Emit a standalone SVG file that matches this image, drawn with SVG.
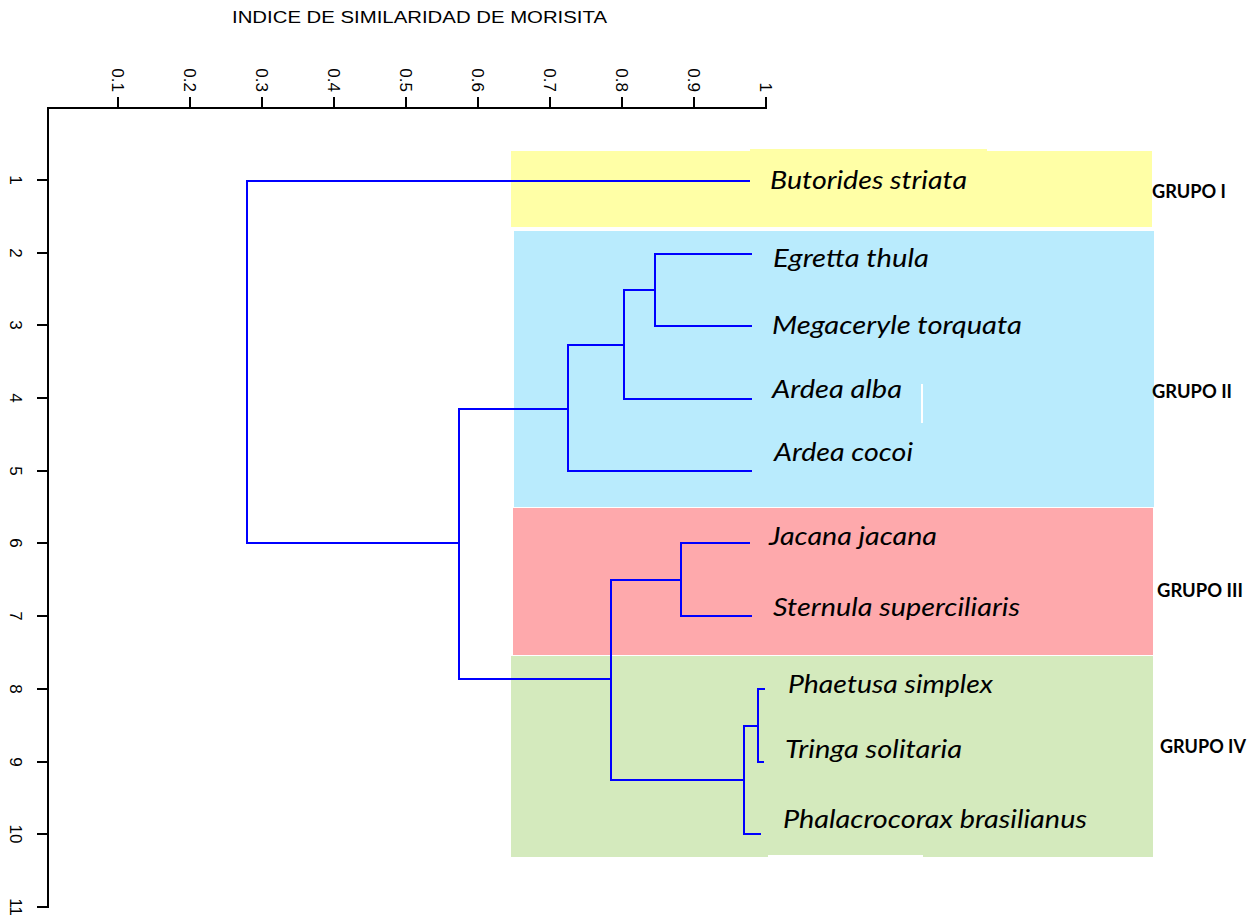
<svg xmlns="http://www.w3.org/2000/svg" width="1251" height="915" viewBox="0 0 1251 915">
<style>
.ax{stroke:#000;stroke-width:2;fill:none}
.tk{font-family:"Liberation Sans",Arial,sans-serif;font-size:17px;fill:#000}
.tt{font-family:"Liberation Sans",Arial,sans-serif;font-size:16px;fill:#000}
.sp{font-family:Lato,"Open Sans",sans-serif;font-style:italic;font-size:25px;fill:#000}
.gr{font-family:Lato,"Open Sans",sans-serif;font-weight:bold;font-size:18px;fill:#000}
.br{stroke:#0000ff;stroke-width:2;fill:none}
</style>
<rect width="1251" height="915" fill="#fff"/>
<g id="bands">
<rect x="511" y="151" width="641" height="76" fill="#ffffa6"/>
<rect x="750" y="149" width="237" height="4" fill="#ffffa6"/>
<rect x="514" y="231" width="640" height="276" fill="#b9ebfd"/>
<rect x="921" y="384" width="2" height="39" fill="#fff"/>
<rect x="513" y="508" width="640" height="147" fill="#fea9ac"/>
<rect x="511" y="656" width="642" height="201" fill="#d4eabd"/>
<rect x="768" y="855" width="155" height="3" fill="#fff"/>
</g>
<text x="232" y="23" class="tt" textLength="375" lengthAdjust="spacingAndGlyphs">INDICE DE SIMILARIDAD DE MORISITA</text>
<g id="top-axis">
<path class="ax" d="M47,108 H767 M118,97 V108 M190,97 V108 M262,97 V108 M334,97 V108 M406,97 V108 M478,97 V108 M550,97 V108 M622,97 V108 M694,97 V108 M766,97 V108"/>
<g class="tk" text-anchor="end">
<text transform="translate(112,92) rotate(90)">0.1</text>
<text transform="translate(184,92) rotate(90)">0.2</text>
<text transform="translate(256,92) rotate(90)">0.3</text>
<text transform="translate(328,92) rotate(90)">0.4</text>
<text transform="translate(400,92) rotate(90)">0.5</text>
<text transform="translate(472,92) rotate(90)">0.6</text>
<text transform="translate(544,92) rotate(90)">0.7</text>
<text transform="translate(616,92) rotate(90)">0.8</text>
<text transform="translate(688,92) rotate(90)">0.9</text>
<text transform="translate(760,92) rotate(90)">1</text>
</g>
</g>
<g id="left-axis">
<path class="ax" d="M48,108 V908 M37,180 H48 M37,253 H48 M37,325 H48 M37,398 H48 M37,471 H48 M37,543 H48 M37,616 H48 M37,689 H48 M37,762 H48 M37,834 H48 M37,907 H48"/>
<g class="tk" text-anchor="middle">
<text transform="translate(10,180) rotate(90)">1</text>
<text transform="translate(10,253) rotate(90)">2</text>
<text transform="translate(10,325) rotate(90)">3</text>
<text transform="translate(10,398) rotate(90)">4</text>
<text transform="translate(10,471) rotate(90)">5</text>
<text transform="translate(10,543) rotate(90)">6</text>
<text transform="translate(10,616) rotate(90)">7</text>
<text transform="translate(10,689) rotate(90)">8</text>
<text transform="translate(10,762) rotate(90)">9</text>
<text transform="translate(10,834) rotate(90)">10</text>
<text transform="translate(10,907) rotate(90)">11</text>
</g>
</g>
<g id="connectors">
<path class="br" d="M750,181 H247 V543 H459"/>
<path class="br" d="M568,409 H459 V679 H611"/>
<path class="br" d="M752,254 H655 V326 H752"/>
<path class="br" d="M655,290 H624 V399 H752"/>
<path class="br" d="M624,345 H568 V471 H752"/>
<path class="br" d="M750,543 H681 V616 H752"/>
<path class="br" d="M681,580 H611 V780 H744"/>
<path class="br" d="M765,689 H758 V762 H764"/>
<path class="br" d="M758,726 H744 V834 H761"/>
</g>
<g id="leaf-butorides"><text class="sp" x="770" y="189" textLength="197" lengthAdjust="spacingAndGlyphs">Butorides striata</text></g>
<g id="leaf-egretta"><text class="sp" x="773" y="267" textLength="156" lengthAdjust="spacingAndGlyphs">Egretta thula</text></g>
<g id="leaf-megaceryle"><text class="sp" x="772" y="334" textLength="250" lengthAdjust="spacingAndGlyphs">Megaceryle torquata</text></g>
<g id="leaf-ardea-alba"><text class="sp" x="772" y="398" textLength="130" lengthAdjust="spacingAndGlyphs">Ardea alba</text></g>
<g id="leaf-ardea-cocoi"><text class="sp" x="774" y="461" textLength="139" lengthAdjust="spacingAndGlyphs">Ardea cocoi</text></g>
<g id="leaf-jacana"><text class="sp" x="769" y="545" textLength="168" lengthAdjust="spacingAndGlyphs">Jacana jacana</text></g>
<g id="leaf-sternula"><text class="sp" x="773" y="616" textLength="247" lengthAdjust="spacingAndGlyphs">Sternula superciliaris</text></g>
<g id="leaf-phaetusa"><text class="sp" x="788" y="693" textLength="205" lengthAdjust="spacingAndGlyphs">Phaetusa simplex</text></g>
<g id="leaf-tringa"><text class="sp" x="785" y="758" textLength="177" lengthAdjust="spacingAndGlyphs">Tringa solitaria</text></g>
<g id="leaf-phalacrocorax"><text class="sp" x="783" y="828" textLength="304" lengthAdjust="spacingAndGlyphs">Phalacrocorax brasilianus</text></g>
<g id="grupo-i"><text class="gr" x="1152" y="198" textLength="74" lengthAdjust="spacingAndGlyphs">GRUPO I</text></g>
<g id="grupo-ii"><text class="gr" x="1152" y="398" textLength="80" lengthAdjust="spacingAndGlyphs">GRUPO II</text></g>
<g id="grupo-iii"><text class="gr" x="1157" y="597" textLength="86" lengthAdjust="spacingAndGlyphs">GRUPO III</text></g>
<g id="grupo-iv"><text class="gr" x="1160" y="753" textLength="86" lengthAdjust="spacingAndGlyphs">GRUPO IV</text></g>
</svg>
